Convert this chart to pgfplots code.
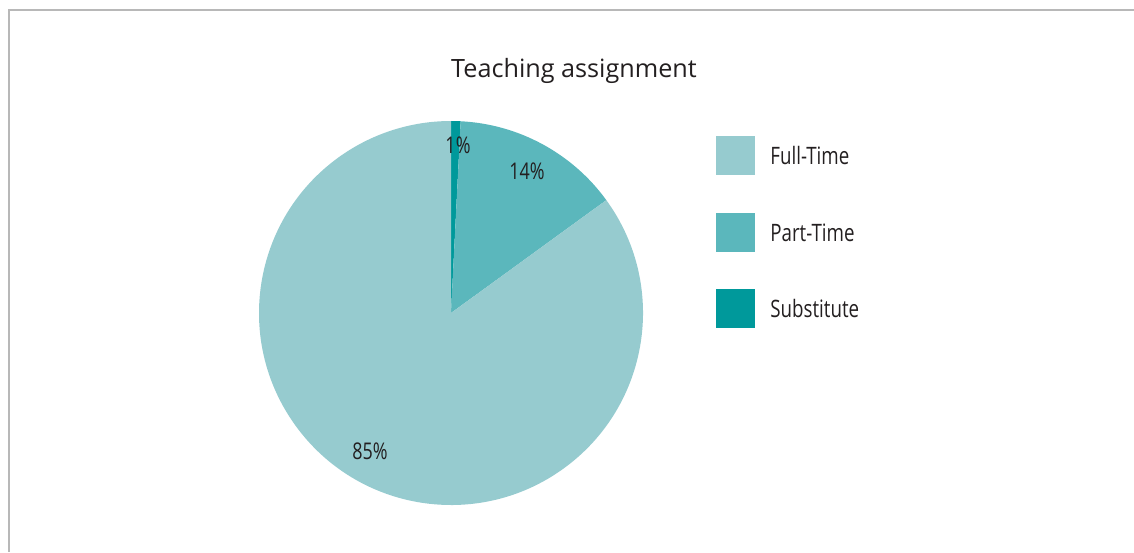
\documentclass[border=0pt]{standalone}
\usepackage{pgfplots}
\usepackage{pgfplotstable}
\pgfplotsset{compat=1.18}
\usepackage{fontspec}
\setmainfont{Open Sans}
\newfontfamily\condfont[FakeStretch=0.78]{Open Sans}
\definecolor{cfull}{HTML}{96CBCF}
\definecolor{cpart}{HTML}{5BB7BC}
\definecolor{csub}{HTML}{00999B}
\definecolor{ctext}{HTML}{231F20}
\definecolor{cframe}{HTML}{B8B8B8}

\pgfplotstableread{
label value
Full-Time 85.0
Part-Time 14.2
Substitute 0.8
}\piedata
\pgfplotstablegetelem{0}{value}\of\piedata \let\vFull\pgfplotsretval
\pgfplotstablegetelem{1}{value}\of\piedata \let\vPart\pgfplotsretval
\pgfplotstablegetelem{2}{value}\of\piedata \let\vSub\pgfplotsretval
\pgfmathsetmacro{\aS}{90-3.6*\vSub}
\pgfmathsetmacro{\aP}{\aS-3.6*\vPart}
\pgfmathsetmacro{\aF}{\aP-3.6*\vFull}

\begin{document}
\begin{tikzpicture}
\begin{axis}[name=ax, x=0.5pt, y=0.5pt, xmin=0, xmax=1134, ymin=0, ymax=552,
  hide axis, clip=false, scale only axis]
% frame (top and left)
\draw[cframe, line width=1pt] (axis cs:9,0) -- (axis cs:9,542) -- (axis cs:1134,542);
% pie slices
\fill[csub] (axis cs:451,239) -- ++(90:96pt) arc[start angle=90, end angle=\aS, radius=96pt] -- cycle;
\fill[cpart] (axis cs:451,239) -- ++(\aS:96pt) arc[start angle=\aS, end angle=\aP, radius=96pt] -- cycle;
\fill[cfull] (axis cs:451,239) -- ++(\aP:96pt) arc[start angle=\aP, end angle=\aF, radius=96pt] -- cycle;
% title
\node[text=ctext, font=\fontsize{12.6}{14}\selectfont] at (axis cs:574,481) {Teaching assignment};
% slice labels
\node[text=ctext, font=\condfont\fontsize{11.5}{13}\selectfont] at (axis cs:458,407) {1\%};
\node[text=ctext, font=\condfont\fontsize{11.5}{13}\selectfont] at (axis cs:527,380.5) {14\%};
\node[text=ctext, font=\condfont\fontsize{11.5}{13}\selectfont] at (axis cs:370,101) {85\%};
% legend
\fill[cfull] (axis cs:716,377) rectangle (axis cs:755,416);
\fill[cpart] (axis cs:716,300) rectangle (axis cs:755,339);
\fill[csub] (axis cs:716,224) rectangle (axis cs:755,263);
\node[anchor=west, inner sep=0pt, text=ctext, font=\condfont\fontsize{12}{14}\selectfont] at (axis cs:770,396) {Full-Time};
\node[anchor=west, inner sep=0pt, text=ctext, font=\condfont\fontsize{12}{14}\selectfont] at (axis cs:770,319.5) {Part-Time};
\node[anchor=west, inner sep=0pt, text=ctext, font=\condfont\fontsize{12}{14}\selectfont] at (axis cs:770,243.5) {Substitute};
\end{axis}
\pgfresetboundingbox
\path[use as bounding box] (ax.south west) rectangle (ax.north east);
\end{tikzpicture}
\end{document}
